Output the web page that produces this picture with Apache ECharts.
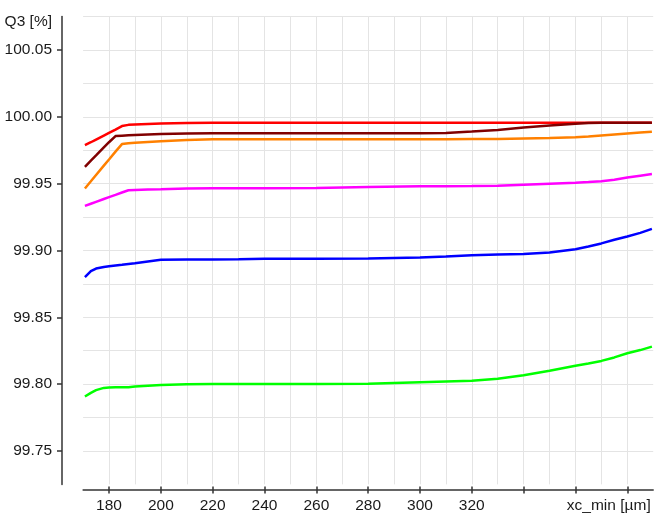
<!DOCTYPE html>
<html>
<head>
<meta charset="utf-8">
<script src="https://cdn.jsdelivr.net/npm/echarts@6/dist/echarts.min.js"></script>
<style>
html,body{margin:0;padding:0;background:#fff;}
#chart{width:656px;height:528px;}
</style>
</head>
<body>
<div id="chart"></div>
<script>
// ---- data ----
const xValues = [170.7, 173, 175, 178, 180, 182.5, 185, 187.5, 190, 195, 200, 210, 220, 230, 240, 260, 280, 300, 310, 320, 330, 340, 350, 360, 365, 370, 375, 380, 385, 389.5];

const redValues     = [99.9788, 99.9810, 99.9830, 99.9860, 99.9880, 99.9905, 99.9931, 99.9940, 99.9943, 99.9947, 99.9951, 99.9953, 99.9955, 99.9956, 99.9956, 99.9956, 99.9956, 99.9956, 99.9956, 99.9956, 99.9956, 99.9956, 99.9956, 99.9956, 99.9956, 99.9956, 99.9956, 99.9956, 99.9956, 99.9956];
const darkRedValues = [99.9626, 99.9672, 99.9711, 99.9771, 99.9810, 99.9856, 99.9859, 99.9862, 99.9864, 99.9868, 99.9872, 99.9876, 99.9877, 99.9877, 99.9877, 99.9877, 99.9877, 99.9877, 99.9880, 99.9890, 99.9902, 99.9920, 99.9935, 99.9949, 99.9954, 99.9955, 99.9955, 99.9955, 99.9955, 99.9955];
const orangeValues  = [99.9464, 99.9518, 99.9565, 99.9635, 99.9681, 99.9740, 99.9796, 99.9802, 99.9806, 99.9812, 99.9818, 99.9826, 99.9832, 99.9833, 99.9833, 99.9833, 99.9833, 99.9833, 99.9833, 99.9834, 99.9835, 99.9838, 99.9841, 99.9847, 99.9853, 99.9861, 99.9868, 99.9875, 99.9882, 99.9888];
const magentaValues = [99.9334, 99.9350, 99.9364, 99.9385, 99.9399, 99.9416, 99.9434, 99.9451, 99.9453, 99.9456, 99.9458, 99.9463, 99.9465, 99.9466, 99.9466, 99.9467, 99.9475, 99.9480, 99.9481, 99.9482, 99.9484, 99.9492, 99.9500, 99.9507, 99.9512, 99.9518, 99.9530, 99.9546, 99.9560, 99.9572];
const blueValues    = [99.8801, 99.8845, 99.8865, 99.8877, 99.8882, 99.8888, 99.8893, 99.8899, 99.8905, 99.8918, 99.8930, 99.8932, 99.8933, 99.8934, 99.8938, 99.8939, 99.8940, 99.8947, 99.8955, 99.8965, 99.8970, 99.8974, 99.8985, 99.9010, 99.9030, 99.9053, 99.9080, 99.9105, 99.9132, 99.9162];
const greenValues   = [99.7908, 99.7935, 99.7955, 99.7972, 99.7975, 99.7976, 99.7977, 99.7977, 99.7983, 99.7988, 99.7993, 99.8000, 99.8002, 99.8002, 99.8002, 99.8002, 99.8003, 99.8015, 99.8020, 99.8025, 99.8040, 99.8067, 99.8100, 99.8137, 99.8155, 99.8174, 99.8200, 99.8231, 99.8255, 99.8281];

const xTickValues  = [180, 200, 220, 240, 260, 280, 300, 320, 340, 360, 380];
const xLabelValues = [180, 200, 220, 240, 260, 280, 300, 320];
const yTickValues  = [99.75, 99.80, 99.85, 99.90, 99.95, 100.00, 100.05];

const xAxisName = 'xc_min [µm]';
const yAxisName = 'Q3 [%]';

// ---- styles ----
const seriesList = [
  { name: 'red', values: redValues, color: '#ff0000' },
  { name: 'darkred', values: darkRedValues, color: '#800000' },
  { name: 'orange', values: orangeValues, color: '#ff8000' },
  { name: 'magenta', values: magentaValues, color: '#ff00ff' },
  { name: 'blue', values: blueValues, color: '#0000ff' },
  { name: 'green', values: greenValues, color: '#00ff00' }
];

const FONT = "'Liberation Sans', Arial, sans-serif";
const FONT_SIZE = 15.5;
const AXIS_COLOR = '#333';
const TEXT_COLOR = '#1a1a1a';
const GRID_COLOR = '#e4e4e4';

const chart = echarts.init(document.getElementById('chart'), null, { renderer: 'canvas' });

const xMin = 170, xMax = 390;
const yMin = 99.725, yMax = 100.075;

chart.setOption({
  animation: false,
  backgroundColor: '#ffffff',
  grid: { left: 83.1, right: 2.8, top: 16.6, bottom: 43.6, containLabel: false },
  xAxis: [
    { // grid lines
      type: 'value', position: 'bottom', min: xMin, max: xMax, interval: 10,
      axisLine: { show: false }, axisTick: { show: false }, axisLabel: { show: false },
      splitLine: { show: true, showMinLine: false, showMaxLine: false, lineStyle: { color: GRID_COLOR, width: 1 } }
    },
    { // visible axis
      type: 'value', position: 'bottom', min: xMin, max: xMax, offset: 5.6,
      axisLine: { show: true, onZero: false, lineStyle: { color: AXIS_COLOR, width: 1.5 } },
      axisTick: { show: true, length: 3.5, customValues: xTickValues, lineStyle: { color: AXIS_COLOR, width: 1.5 } },
      axisLabel: { show: true, customValues: xLabelValues, margin: 8, fontSize: FONT_SIZE, fontFamily: FONT, color: TEXT_COLOR },
      splitLine: { show: false },
      name: xAxisName, nameLocation: 'end', nameGap: -2.5,
      nameTextStyle: { fontSize: FONT_SIZE, fontFamily: FONT, color: TEXT_COLOR, align: 'right', verticalAlign: 'top', padding: [8, 0, 0, 0] }
    },
    { // inward ticks
      type: 'value', position: 'bottom', min: xMin, max: xMax, offset: 5.6,
      axisLine: { show: false, onZero: false },
      axisTick: { show: true, inside: true, length: 3.5, customValues: xTickValues, lineStyle: { color: AXIS_COLOR, width: 1.5 } },
      axisLabel: { show: false },
      splitLine: { show: false }
    }
  ],
  yAxis: [
    { // grid lines
      type: 'value', position: 'left', min: yMin, max: yMax, interval: 0.025,
      axisLine: { show: false }, axisTick: { show: false }, axisLabel: { show: false },
      splitLine: { show: true, showMinLine: false, showMaxLine: true, lineStyle: { color: GRID_COLOR, width: 1 } }
    },
    { // visible axis
      type: 'value', position: 'left', min: yMin, max: yMax, offset: 21.1,
      axisLine: { show: true, onZero: false, lineStyle: { color: AXIS_COLOR, width: 1.5 } },
      axisTick: { show: true, length: 5, customValues: yTickValues, lineStyle: { color: AXIS_COLOR, width: 1.5 } },
      axisLabel: { show: true, customValues: yTickValues, margin: 10, fontSize: FONT_SIZE, fontFamily: FONT, color: TEXT_COLOR,
                   formatter: v => Number(v).toFixed(2) },
      splitLine: { show: false },
      name: yAxisName, nameLocation: 'end', nameGap: -5,
      nameTextStyle: { fontSize: FONT_SIZE, fontFamily: FONT, color: TEXT_COLOR, align: 'right', verticalAlign: 'middle', padding: [0, 10, 0, 0] }
    }
  ],
  series: seriesList.map(s => ({
    name: s.name,
    type: 'line',
    xAxisIndex: 0,
    yAxisIndex: 0,
    data: xValues.map((x, i) => [x, s.values[i]]),
    showSymbol: false,
    symbol: 'none',
    smooth: false,
    lineStyle: { color: s.color, width: 2.5 },
    itemStyle: { color: s.color },
    z: 3
  }))
});
</script>
</body>
</html>
